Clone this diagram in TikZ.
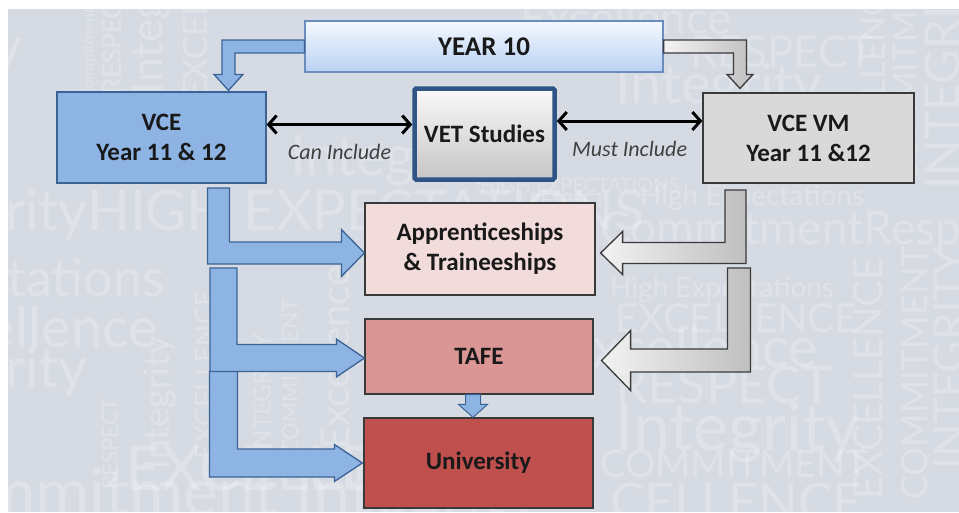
\documentclass[tikz,border=0pt]{standalone}
\usepackage{fontspec}
\setmainfont{Carlito}
\newfontfamily\markfont{Lato}
\usetikzlibrary{calc,arrows.meta}

\definecolor{backdrop}{HTML}{D6DBE3}
\definecolor{vceblue}{HTML}{8DB4E3}
\definecolor{vceedge}{HTML}{3C6396}
\definecolor{vetedge}{HTML}{2F5486}
\definecolor{yeartop}{HTML}{F4F8FE}
\definecolor{yearbottom}{HTML}{B9D1F3}
\definecolor{yearedge}{HTML}{6A8DBE}
\definecolor{vmgray}{HTML}{D9D9D9}
\definecolor{darkedge}{HTML}{3A3A3A}
\definecolor{apprpink}{HTML}{F2DCDB}
\definecolor{tafepink}{HTML}{DA9694}
\definecolor{unired}{HTML}{C0504D}
\definecolor{textgray}{HTML}{404040}

\tikzset{
  box/.style={draw=darkedge, line width=1.2pt, inner sep=0pt, align=center,
    text=black!90, font=\bfseries\fontsize{25}{30}\selectfont},
  link/.style={<->, >={Straight Barb[length=8pt,width=18pt]}, line width=3pt},
  hint/.style={font=\itshape\fontsize{22}{24}\selectfont, text=textgray},
  bluearrow/.style={fill=vceblue, draw=vceedge, line width=1.3pt},
  grayarrow/.style={left color=gray!10, right color=gray!50, draw=darkedge, line width=1.3pt},
  wordmark/.style={anchor=west, inner sep=0pt, text=white, opacity=0.22},
}

% block arrow: bar leaves #2 sideways, then drops onto the tip #3
% #4 bar direction (1 right, -1 left), #5 half shaft, #6 half head, #7 head length
\newcommand{\turndown}[7]{%
  \path[#1] let \p1=(#2), \p2=(#3) in
    (\x1,{\y1+#5}) -- ({\x2+(#4)*#5},{\y1+#5}) -- ({\x2+(#4)*#5},{\y2+#7})
    -- ({\x2+(#4)*#6},{\y2+#7}) -- (\p2) -- ({\x2-(#4)*#6},{\y2+#7})
    -- ({\x2-(#4)*#5},{\y2+#7}) -- ({\x2-(#4)*#5},{\y1-#5}) -- (\x1,{\y1-#5}) -- cycle;
}
% block arrow: shaft drops from #2, then turns sideways onto the tip #3
% #4 tip side (1 right, -1 left), #5 half shaft, #6 half head, #7 head length
\newcommand{\dropturn}[7]{%
  \path[#1] let \p1=(#2), \p2=(#3) in
    ({\x1-(#4)*#5},\y1) -- ({\x1+(#4)*#5},\y1) -- ({\x1+(#4)*#5},{\y2+#5})
    -- ({\x2-(#4)*#7},{\y2+#5}) -- ({\x2-(#4)*#7},{\y2+#6}) -- (\p2)
    -- ({\x2-(#4)*#7},{\y2-#6}) -- ({\x2-(#4)*#7},{\y2-#5}) -- ({\x1-(#4)*#5},{\y2-#5}) -- cycle;
}

\begin{document}
\begin{tikzpicture}[x=1pt,y=-1pt]
\useasboundingbox (0,0) rectangle (959,512);

% backdrop with the faint word cloud
\fill[backdrop] (8,9) rectangle (959,512);
\begin{scope}
\clip (8,9) rectangle (959,512);
\foreach \px/\py/\s/\a/\w [count=\n] in {
  -200/52/60/0/Integrity, 88/100/16/90/Commitment, 112/95/26/90/RESPECT,
  150/95/44/90/Integrity, 195/100/34/90/EXCELLENCE, 520/18/46/0/Excellence,
  690/52/44/0/RESPECT, 615/88/56/0/Integrity, 873/180/34/90/EXCELLENCE,
  905/185/34/90/COMMITMENT, 942/190/48/90/INTEGRITY,
  -120/215/56/0/IntegrityHIGH EXPECTATIONS, -130/282/52/0/Expectations,
  -100/327/56/0/Excellence, -120/372/56/0/Integrity,
  -100/497/66/0/Commitment Integrity, 125/468/62/0/EXCELLENCE,
  110/490/22/90/RESPECT, 160/470/36/90/Integrity, 205/460/28/90/EXCELLENCE,
  262/455/24/90/INTEGRITY, 290/455/22/90/COMMITMENT, 335/450/40/90/Excellence,
  290/160/56/0/Integrity, 480/185/20/0/HIGH EXPECTATIONS, 530/200/18/0/RESPECT,
  600/232/46/0/CommitmentRespect, 640/198/28/0/High Expectations,
  610/290/28/0/High Expectations, 615/318/40/0/EXCELLENCE,
  560/347/56/0/Excellence, 615/385/52/0/RESPECT, 615/432/66/0/Integrity,
  600/464/38/0/COMMITMENT, 610/502/52/0/CELLENCE,
  868/500/40/90/EXCELLENCE, 915/500/36/90/COMMITMENT, 950/470/44/90/INTEGRITY}
  \node[wordmark, rotate=\a, font=\markfont\fontsize{\s}{\s}\selectfont] (word\n) at (\px,\py) {\w};
\end{scope}

% boxes
\node[box, draw=yearedge, top color=yeartop, bottom color=yearbottom,
  font=\bfseries\fontsize{27}{30}\selectfont,
  minimum width=358pt, minimum height=51pt] (year10) at (484,46.5) {YEAR 10};
\node[box, fill=vceblue, draw=vceedge, minimum width=209pt, minimum height=91pt]
  (vce) at (161.5,137.5) {VCE\\Year 11 \& 12};
\node[box, draw=vetedge, line width=4.5pt, rounded corners=1.5pt,
  top color=gray!5, bottom color=gray!45, minimum width=140pt, minimum height=91pt]
  (vet) at (484.5,134) {VET Studies};
\node[box, fill=vmgray, minimum width=211pt, minimum height=90pt]
  (vcevm) at (808.5,138) {VCE VM\\Year 11 \&12};
\node[box, fill=apprpink, minimum width=230pt, minimum height=92pt]
  (appr) at (480,249) {Apprenticeships\\\& Traineeships};
\node[box, fill=tafepink, minimum width=228pt, minimum height=75pt]
  (tafe) at (479,356.5) {TAFE};
\node[box, fill=unired, minimum width=229pt, minimum height=90pt]
  (uni) at (478.5,463) {University};

% VET links
\draw[link] ([yshift=13pt]vce.east) -- node[hint, below=15pt] {Can Include}
  ([yshift=13pt]vce.east -| vet.west);
\draw[link] ([yshift=13pt]vet.east) -- node[hint, below=15pt] {Must Include}
  ([yshift=13pt]vet.east -| vcevm.west);

% from year 10
\turndown{bluearrow}{year10.west}{[xshift=67pt,yshift=1pt]vce.north}{-1}{6.5pt}{14.5pt}{16pt}
\turndown{grayarrow}{year10.east}{[xshift=-68.5pt,yshift=4pt]vcevm.north}{1}{6.5pt}{13pt}{14pt}

% VCE pathways
\coordinate (vce drop) at (218.5,188);
\coordinate (vce drop2) at (223.5,268);
\coordinate (vce drop3) at (223.5,371);
\dropturn{bluearrow}{vce drop3}{[xshift=-1pt]uni.west}{1}{14pt}{18.5pt}{28pt}
\dropturn{bluearrow}{vce drop2}{[yshift=-1.5pt]tafe.west}{1}{13.5pt}{19pt}{28pt}
\dropturn{bluearrow}{vce drop}{[yshift=-4pt]appr.west}{1}{11pt}{23.5pt}{23pt}

% VCE VM pathways
\coordinate (vm drop) at (735.5,190);
\coordinate (vm drop2) at (739,268);
\dropturn{grayarrow}{vm drop}{[xshift=5pt,yshift=-4pt]appr.east}{-1}{10.5pt}{21.5pt}{22pt}
\dropturn{grayarrow}{vm drop2}{[xshift=8pt,yshift=-4pt]tafe.east}{-1}{11.5pt}{30pt}{29pt}

% TAFE to university
\path[bluearrow, line width=1pt] let \p1=([xshift=-6pt]tafe.south), \p2=([xshift=-6pt]uni.north) in
  ({\x1-7.5pt},\y1) -- ({\x1+7.5pt},\y1) -- ({\x1+7.5pt},{\y2+13pt}) -- ({\x1+14.5pt},{\y2+13pt})
  -- (\x1,\y2) -- ({\x1-14.5pt},{\y2+13pt}) -- ({\x1-7.5pt},{\y2+13pt}) -- cycle;

\end{tikzpicture}
\end{document}
